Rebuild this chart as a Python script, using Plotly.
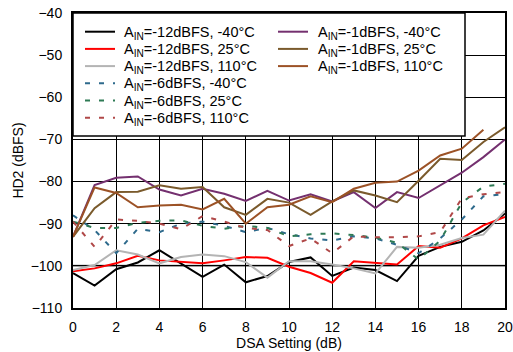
import plotly.graph_objects as go

dsa = list(range(0, 21))

# A_IN = -12 dBFS
hd2_m12_m40 = [-101.7, -104.7, -100.8, -99.2, -96.3, -99.4, -102.6, -99.7, -103.9, -102.4, -99.1,
               -98.0, -102.4, -100.4, -101.0, -103.6, -97.6, -95.5, -94.3, -91.6, -87.6]
hd2_m12_25 = [-101.3, -100.6, -99.4, -97.6, -98.7, -99.1, -99.4, -98.7, -97.9, -98.1, -100.2,
              -101.7, -104.0, -98.9, -99.3, -99.7, -95.3, -95.7, -93.5, -90.4, -88.4]
hd2_m12_110 = [-101.0, -99.8, -96.3, -97.3, -99.4, -97.9, -97.3, -97.7, -99.1, -102.8, -98.9,
               -98.9, -99.7, -100.6, -101.8, -95.5, -95.7, -95.0, -93.4, -92.6, -86.9]
# A_IN = -6 dBFS
hd2_m6_m40 = [-88.0, -91.5, -97.0, -91.2, -92.0, -90.0, -89.5, -90.5, -92.0, -91.0, -92.5,
              -93.5, -94.0, -93.0, -93.5, -95.0, -97.0, -93.5, -89.0, -83.5, -83.0]
hd2_m6_25 = [-89.5, -91.0, -91.0, -89.8, -89.3, -89.2, -90.5, -91.2, -90.5, -91.0, -93.0,
             -92.5, -92.3, -92.7, -93.3, -94.5, -98.5, -94.0, -85.0, -81.2, -80.5]
hd2_m6_110 = [-89.5, -95.5, -89.0, -89.3, -90.0, -91.3, -88.2, -89.5, -91.0, -91.5, -95.3,
              -93.5, -97.0, -93.0, -93.2, -93.2, -93.0, -92.0, -84.0, -83.0, -82.5]
# A_IN = -1 dBFS
hd2_m1_m40 = [-93.1, -80.8, -79.1, -78.8, -81.9, -83.3, -81.7, -82.9, -84.6, -82.2, -84.5,
              -83.0, -84.7, -82.5, -86.3, -82.5, -83.9, -80.8, -77.9, -74.2, -70.0]
hd2_m1_25 = [-93.1, -86.3, -82.5, -82.4, -80.9, -81.7, -81.3, -86.1, -87.9, -84.1, -85.0,
             -87.9, -84.7, -82.1, -83.3, -84.9, -79.8, -74.6, -74.9, -70.6, -67.1]
dsa_110 = list(range(0, 20))
hd2_m1_110 = [-93.1, -81.4, -82.7, -86.1, -85.7, -85.5, -86.6, -84.1, -90.0, -86.1, -85.5,
              -83.5, -84.9, -81.7, -80.3, -80.0, -77.4, -73.8, -72.2, -67.7]

x_ticks = list(range(0, 21, 2))
y_ticks = list(range(-110, -39, 10))

sub = "A<sub>IN</sub>"
DD = "5px,9px"
series = [
    (dsa, hd2_m12_m40, f"{sub}=-12dBFS, -40°C", "#000000", "solid", 0, 0),
    (dsa, hd2_m12_25, f"{sub}=-12dBFS, 25°C", "#ff0000", "solid", 0, 1),
    (dsa, hd2_m12_110, f"{sub}=-12dBFS, 110°C", "#b4b4b4", "solid", 0, 2),
    (dsa, hd2_m6_m40, f"{sub}=-6dBFS, -40°C", "#2e6a8c", DD, 0, 3),
    (dsa, hd2_m6_25, f"{sub}=-6dBFS, 25°C", "#2e7a55", DD, 0, 4),
    (dsa, hd2_m6_110, f"{sub}=-6dBFS, 110°C", "#b04848", DD, 0, 5),
    (dsa, hd2_m1_m40, f"{sub}=-1dBFS, -40°C", "#74306f", "solid", 1, 0),
    (dsa, hd2_m1_25, f"{sub}=-1dBFS, 25°C", "#7a5a2c", "solid", 1, 1),
    (dsa_110, hd2_m1_110, f"{sub}=-1dBFS, 110°C", "#9c5226", "solid", 1, 2),
]

W, H = 513, 352
ML, MR, MT, MB = 73, 8, 13, 44
PW, PH = W - ML - MR, H - MT - MB

def px2x(px):
    return (px - ML) / PW

def px2y(py):
    return (H - MB - py) / PH

fam = "Arial, Liberation Sans, sans-serif"
font14 = dict(family=fam, size=14, color="#000000")
font15 = dict(family=fam, size=14.5, color="#000000")

fig = go.Figure()
shapes = [
    dict(type="line", xref="paper", yref="y", x0=0, x1=1, y0=-100, y1=-100,
         line=dict(color="#808080", width=2), layer="below"),
    dict(type="rect", xref="paper", yref="paper", x0=0, x1=px2x(465), y0=px2y(136), y1=1,
         fillcolor="white", line=dict(color="#000000", width=1.5), layer="above"),
]
annotations = []
col_line = [(85, 115), (278, 308)]
col_text = [122, 316]
for x, y, name, color, dash, col, row in series:
    fig.add_trace(go.Scatter(x=x, y=y, mode="lines", name=name, showlegend=False,
                             line=dict(color=color, width=2, dash=dash)))
    ry = 31.7 + 17.2 * row
    shapes.append(dict(type="line", xref="paper", yref="paper",
                       x0=px2x(col_line[col][0]), x1=px2x(col_line[col][1]),
                       y0=px2y(ry), y1=px2y(ry),
                       line=dict(color=color, width=2, dash=dash), layer="above"))
    annotations.append(dict(xref="paper", yref="paper", x=px2x(col_text[col]), y=px2y(ry + 1),
                            text=name, showarrow=False, xanchor="left", yanchor="middle",
                            font=font15))

fig.update_layout(
    width=W, height=H,
    margin=dict(l=ML, r=MR, t=MT, b=MB),
    paper_bgcolor="white", plot_bgcolor="white",
    font=font14,
    showlegend=False,
    xaxis=dict(range=[0, 20], tickvals=x_ticks, showgrid=True, gridcolor="#000000",
               gridwidth=1, showline=True, linecolor="#000000", linewidth=2, mirror=True,
               ticks="", zeroline=False, automargin=False, ticklabelstandoff=5,
               title=dict(text="DSA Setting (dB)", standoff=0, font=font14),
               tickfont=font14),
    yaxis=dict(range=[-110, -40], tickvals=y_ticks, showgrid=True, gridcolor="#000000",
               gridwidth=1, showline=True, linecolor="#000000", linewidth=2, mirror=True,
               ticks="", zeroline=False, automargin=False, ticklabelstandoff=6,
               title=dict(text="HD2 (dBFS)", standoff=4, font=font14),
               tickfont=font14),
    shapes=shapes,
    annotations=annotations,
)

fig.write_html("out.html", config={"displayModeBar": False},
               post_script="document.body.style.margin='0';document.body.style.overflow='hidden';")
